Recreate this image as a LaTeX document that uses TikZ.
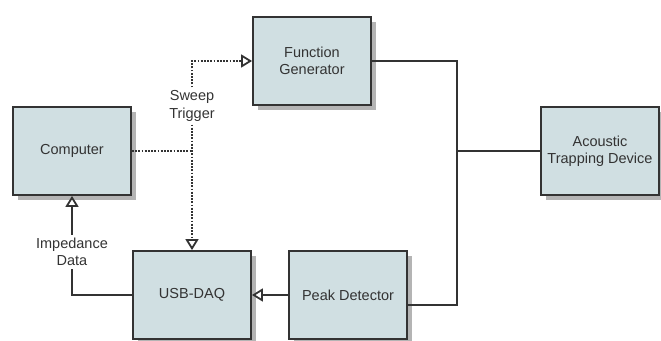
\documentclass[tikz,border=0pt]{standalone}
\usepackage{fontspec}
\setmainfont{Liberation Sans}
\usetikzlibrary{shapes, arrows.meta, positioning, calc, shadows}

\definecolor{boxfill}{RGB}{208,223,226}
\definecolor{boxline}{RGB}{51,51,51}
\definecolor{boxshadow}{RGB}{180,180,180}

\begin{document}
\begin{tikzpicture}[
    x=1pt, y=-1pt,
    block/.style={rectangle, draw=boxline, line width=1.8pt, fill=boxfill, text=boxline,
        minimum width=118pt, minimum height=88pt, align=center, font=\fontsize{14.5}{17.5}\selectfont,
        drop shadow={shadow xshift=5pt, shadow yshift=-5pt, fill=boxshadow, opacity=1}},
    wire/.style={line width=1.8pt, boxline},
    signal/.style={wire, -{Triangle[open, length=11pt, width=13pt, line width=1.8pt]}},
    trigger/.style={signal, dash pattern=on 1.8pt off 1.4pt},
    tag/.style={align=center, text=boxline, inner sep=3pt, font=\fontsize{14.5}{17.5}\selectfont}
]
    \useasboundingbox (0,0) rectangle (661,340);

    % Blocks
    \node (computer) [block] at (72, 151) {Computer};
    \node (funcgen) [block] at (312, 61) {Function\\Generator};
    \node (usbdaq) [block] at (192, 295) {USB-DAQ};
    \node (peakdet) [block] at (348, 295) {Peak Detector};
    \node (atd) [block] at (600, 151) {Acoustic\\Trapping Device};

    % Labels on the connectors
    \node (sweep) [tag] at (192, 106) {Sweep\\Trigger};
    \node (impedance) [tag] at (72, 252) {Impedance\\Data};

    % Bus between generator, device and detector
    \coordinate (bus_top) at (457, 61);
    \coordinate (bus_bot) at (457, 305);
    \draw [wire] (funcgen.east) -- (bus_top) -- (bus_bot) -- (peakdet.east |- bus_bot);
    \draw [wire] (atd.west) -- (atd.west -| bus_top);

    % Sweep trigger from the computer
    \draw [wire, dash pattern=on 1.8pt off 1.4pt] (computer.east) -- (computer.east -| sweep);
    \draw [trigger] (sweep.north) |- (funcgen.west);
    \draw [trigger] (sweep.south) -- (usbdaq.north);

    % Measured data back to the computer
    \draw [signal] (peakdet.west) -- (usbdaq.east);
    \draw [wire] (usbdaq.west) -| (impedance.south);
    \draw [signal] (impedance.north) -- (computer.south);
\end{tikzpicture}
\end{document}
